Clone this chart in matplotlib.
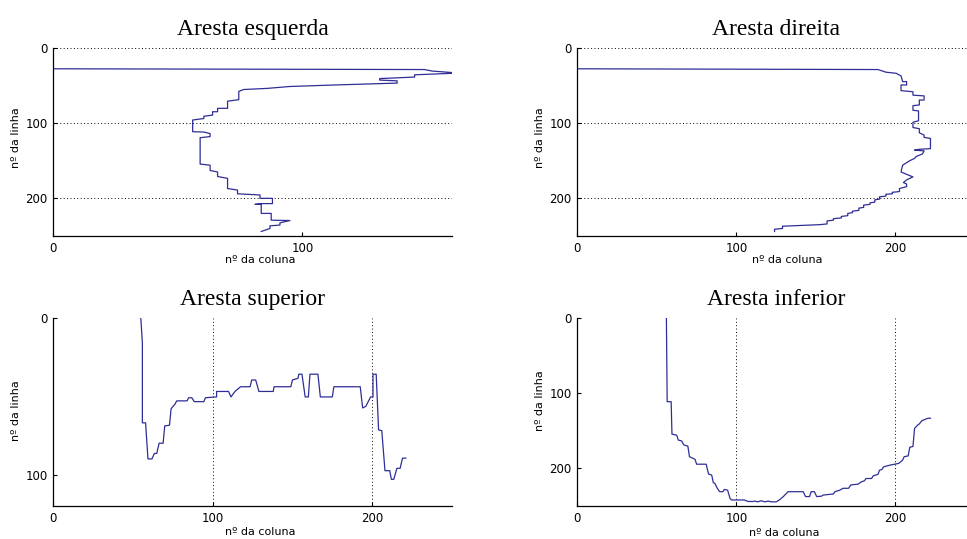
import matplotlib
matplotlib.use('Agg')
import matplotlib.pyplot as plt

# Aresta esquerda (coluna x linha)
col_esq = [0, 0, 149, 152, 160, 160, 145, 145, 131, 131, 138, 138, 113, 95, 86, 76.5,
           74.5, 74.5, 70, 70, 66, 66, 64, 64, 60.5, 60.5, 56, 56, 60.5, 63, 63, 59, 59,
           63, 63, 66, 66, 70, 70, 74, 74, 83, 83, 88, 88, 83.5, 81, 83.5, 83.5, 87.5,
           87.5, 95, 91, 91, 87, 87, 83.5]
lin_esq = [0, 28, 29, 31, 33, 34, 36, 39, 41, 43, 44, 47, 49.5, 51.5, 54, 55.5,
           58, 69, 71, 80.5, 80.5, 85, 85, 89.5, 91, 94, 96, 111.5, 112, 114, 118, 119.5, 154.5,
           156, 163, 165, 171, 173.5, 187, 189, 194, 195.5, 200, 200, 207, 207, 208, 208, 220, 220,
           229, 229.5, 232.5, 235.5, 236.5, 240, 244]

# Aresta direita
col_dir = [0, 0, 189, 194, 200.5, 203.5, 204.5, 207, 207, 203.5, 203.5, 211, 211, 218, 218,
           215, 215, 211, 211, 214.5, 214.5, 211, 211, 215, 215, 218, 218, 222, 222, 214.5,
           212, 218, 217, 213, 212, 209, 204.5, 203.5, 208, 211, 207, 205, 207, 207, 202.5,
           202.5, 198, 198, 194, 194, 190, 190, 187, 187, 184, 184, 180, 180, 177, 177,
           173, 173, 170, 170, 166, 166, 161, 161, 157, 157, 152, 129, 129, 124, 124]
lin_dir = [0, 28, 29, 32.5, 34, 37.5, 45, 45, 49.5, 49.5, 57, 58.5, 63, 64, 69.5,
           69.5, 76, 77, 83, 84, 97, 99, 106, 107.5, 113, 116, 119, 120.5, 134, 135,
           136, 137, 141, 144.5, 147, 150, 156, 165, 169, 171.5, 175.5, 179, 181, 184.5, 187,
           191, 192, 194, 194.5, 197, 198, 201, 202, 205, 206, 208, 209, 212, 213, 216,
           217, 219, 220, 223, 224, 226, 227, 229, 230, 234, 235, 237, 240, 241, 244]

# Aresta superior
col_sup = [55, 56, 56, 58, 59.5, 62, 63.5, 65, 66.5, 69, 70, 73, 74, 76.5, 77.5, 84, 85, 87,
           88.5, 94.5, 95.5, 102.5, 102.5, 110, 111.5, 114, 117.5, 123.5, 124.5, 127, 129, 138,
           138.5, 149, 150, 153.5, 154, 156, 158, 160, 161, 166, 167.5, 175, 176, 192.5, 194,
           196, 199, 200.5, 200.5, 202.5, 204, 206, 208, 211, 212, 213.5, 215.5, 217.5, 219, 221]
lin_sup = [0, 16, 67, 67, 90, 90, 86.5, 86.5, 80, 80, 69, 68.5, 58, 55, 53, 53, 51, 51,
           53.5, 53.5, 51, 50.5, 47, 47, 50.5, 47, 44, 44, 39.7, 39.7, 47, 47,
           44, 44, 39.7, 38.6, 36, 36, 50.5, 50.5, 36, 36, 50.5, 50.5, 44, 44, 57.5,
           56.5, 50.5, 50.5, 36, 36, 71.5, 72, 97.5, 97.5, 103, 103, 96, 96, 89.5, 89.5]

# Aresta inferior
col_inf = [56, 56.5, 59, 59.5, 62.5, 63.5, 65.5, 67, 69.5, 70.5, 74, 75, 81, 82.5, 84.5, 85.5,
           86.5, 88, 89.5, 91.5, 92.5, 94.5, 96, 97, 105, 106, 107.5, 110.5, 111.5, 113.5, 115.5,
           118, 120, 122, 125, 127, 129.5, 132.5, 142, 143.5, 146, 147, 149, 150.5, 153.5, 154.5,
           161, 162, 165, 167, 170.5, 172, 176.5, 178.5, 180.5, 181.5, 185, 186, 189, 190, 191.5,
           192.5, 197, 199.5, 202, 203.5, 204.5, 205.5, 208, 209, 211, 212, 214, 215, 216.5,
           218.5, 220.5, 222]
lin_inf = [0, 111.5, 111.5, 154.5, 156, 162.5, 163.5, 169, 170.5, 184.5, 188, 194.5, 194.5, 207.5,
           209, 219, 220, 226.5, 231, 231, 228, 229, 240, 242, 242, 243, 244, 244, 243.5, 244.5,
           243, 244.5, 243.5, 244.5, 244.5, 242, 237.5, 231, 231, 237.5, 237.5, 231, 231, 237.5,
           237, 235.5, 234, 231, 229, 226.5, 226.5, 222, 221, 218, 216.5, 213.5, 213.5, 210, 208,
           202.5, 201.5, 198, 195.5, 194.5, 193.5, 191, 189, 184.5, 183.5, 172, 171, 147, 142.5,
           141, 137, 135, 133.5, 133.5]

titulos = ['Aresta esquerda', 'Aresta direita', 'Aresta superior', 'Aresta inferior']
dados = [(col_esq, lin_esq), (col_dir, lin_dir), (col_sup, lin_sup), (col_inf, lin_inf)]
xlims = [160, 250, 250, 250]
ylims = [250, 250, 120, 250]
xticks = [[0, 100], [0, 100, 200], [0, 100, 200], [0, 100, 200]]
yticks = [[0, 100, 200], [0, 100, 200], [0, 100], [0, 100, 200]]
grade = ['y', 'y', 'x', 'x']

W, H = 967, 539
# posicoes dos eixos em pixels: esquerda, topo, direita, base
caixas = [(53, 47.7, 452, 236), (577.3, 47.7, 975, 236),
          (53, 317.7, 452, 506), (577.3, 317.7, 975, 506)]
ylab_y = [0.523, 0.525, 0.506, 0.56]
xlab = [(0.519, -0.10), (0.529, -0.10), (0.519, -0.11), (0.52, -0.117)]

fig = plt.figure(figsize=(W / 100, H / 100), dpi=100)
tick_font = ['Liberation Sans Narrow', 'DejaVu Sans']

for i in range(4):
    l, t, r, b = caixas[i]
    ax = fig.add_axes([l / W, 1 - b / H, (r - l) / W, (b - t) / H])
    c, li = dados[i]
    ax.plot(c, li, color='#2e2e96', lw=0.9)
    ax.set_xlim(0, xlims[i])
    ax.set_ylim(ylims[i], 0)
    ax.set_xticks(xticks[i])
    ax.set_yticks(yticks[i])
    for s in ['top', 'right']:
        ax.spines[s].set_visible(False)
    for s in ['left', 'bottom']:
        ax.spines[s].set_linewidth(0.9)
    ax.tick_params(direction='in', length=3, width=0.8, pad=4, labelsize=8.5)
    for lab in ax.get_xticklabels() + ax.get_yticklabels():
        lab.set_family(tick_font)
    ax.grid(True, axis=grade[i], color='black', linestyle=(0, (1, 2.5)), linewidth=0.7)
    ax.set_axisbelow(True)
    ax.set_title(titulos[i], fontsize=17, family='Liberation Serif', pad=9.5)
    ax.set_xlabel('nº da coluna', fontsize=8)
    ax.set_ylabel('nº da linha', fontsize=8)
    ax.xaxis.set_label_coords(xlab[i][0], xlab[i][1])
    ax.yaxis.set_label_coords(-0.08, ylab_y[i])

fig.savefig('out.png', dpi=100)
